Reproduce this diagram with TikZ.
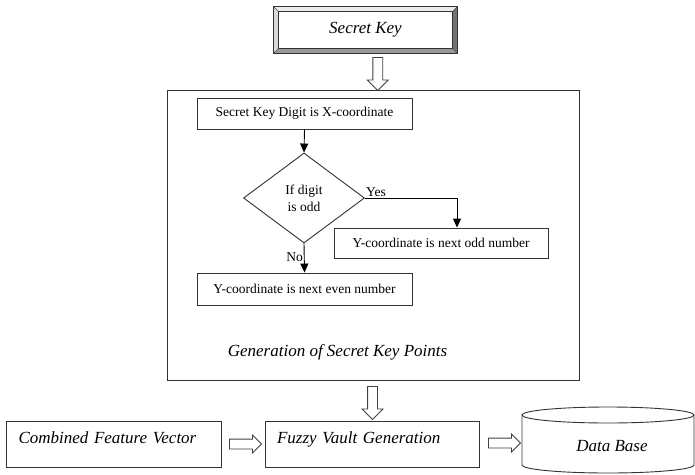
\documentclass[tikz,border=0pt]{standalone}
\usepackage{fontspec}
\setmainfont{Liberation Serif}
\usetikzlibrary{shapes.geometric,shapes.arrows,arrows.meta,calc}
\newcommand{\fsmall}{\fontsize{13.5}{16}\selectfont}
\newcommand{\fbig}{\fontsize{17}{20}\selectfont\itshape}
\begin{document}
\begin{tikzpicture}[x=1pt,y=-1pt,
  every node/.style={inner sep=0pt},
  boxed/.style={draw=black!80, line width=0.9pt, rectangle},
  flow/.style={draw=black, line width=0.9pt, -{Triangle[length=9pt,width=8pt]}},
  harrowv/.style={single arrow, draw=black!75, line width=0.8pt, fill=white, minimum height=33pt, inner xsep=0pt, inner ysep=4.5pt, single arrow head extend=5.5pt},
  harrowh/.style={single arrow, draw=black!75, line width=0.8pt, fill=white, minimum height=32pt, inner xsep=0pt, inner ysep=4.5pt, single arrow head extend=4pt}]
\useasboundingbox (0,0) rectangle (695,474);
\fill[white] (0,0) rectangle (695,474);

% Secret Key bevelled box
\node[boxed, minimum width=183pt, minimum height=46pt] (sk) at (365.5,30) {};
\fill[black!8] (sk.north west) -- (sk.north east) -- ([shift={(-5,5)}]sk.north east) -- ([shift={(5,5)}]sk.north west) -- cycle;
\fill[black!15] (sk.north west) -- (sk.south west) -- ([shift={(5,-5)}]sk.south west) -- ([shift={(5,5)}]sk.north west) -- cycle;
\fill[black!55] (sk.north east) -- (sk.south east) -- ([shift={(-5,-5)}]sk.south east) -- ([shift={(-5,5)}]sk.north east) -- cycle;
\fill[black!40] (sk.south west) -- (sk.south east) -- ([shift={(-5,-5)}]sk.south east) -- ([shift={(5,-5)}]sk.south west) -- cycle;
\draw[black!80, line width=1pt] (sk.north west) rectangle (sk.south east);
\draw[black!80, line width=0.7pt] ([shift={(5,5)}]sk.north west) rectangle ([shift={(-5,-5)}]sk.south east);
\draw[black!70, line width=0.5pt] (sk.north west) -- ([shift={(5,5)}]sk.north west)
  (sk.north east) -- ([shift={(-5,5)}]sk.north east)
  (sk.south west) -- ([shift={(5,-5)}]sk.south west)
  (sk.south east) -- ([shift={(-5,-5)}]sk.south east);
\node[font=\fbig] at (sk.center) {Secret Key};

% big frame
\node[boxed, minimum width=412pt, minimum height=290pt] (big) at (373,235) {};

% inner flowchart
\node[boxed, minimum width=215pt, minimum height=31pt, font=\fsmall] (xc) at (304.5,113.5) {Secret Key Digit is X-coordinate};
\node[draw=black!80, line width=0.9pt, diamond, aspect=1.34, minimum width=121pt, minimum height=90pt, align=center, font=\fsmall] (dia) at (304,198) {If digit\\[1pt]is odd};
\node[boxed, minimum width=214pt, minimum height=30pt, font=\fsmall] (odd) at (441,243) {Y-coordinate is next odd number};
\node[boxed, minimum width=215pt, minimum height=32pt, font=\fsmall] (even) at (304.5,289) {Y-coordinate is next even number};
\node[font=\fbig] (gen) at (337.5,352) {Generation of Secret Key Points};

\draw[flow] (xc.south) -- (dia.north);
\draw[flow] (dia.east) -| ($(odd.north)+(16,0)$);
\draw[flow] (dia.south) -- (even.north);
\node[font=\fsmall, anchor=south west] (yes) at ($(dia.east)+(1,-1)$) {Yes};
\node[font=\fsmall, anchor=east] (no) at ($(dia.south)+(-1,14)$) {No};

% bottom row
\node[boxed, minimum width=215pt, minimum height=46pt, text width=190pt, align=left, inner xsep=12pt, text depth=12pt, font=\fbig] (cfv) at (113.5,444) {Combined Feature Vector};
\node[boxed, minimum width=214pt, minimum height=46pt, text width=190pt, align=left, inner xsep=12pt, text depth=12pt, font=\fbig] (fvg) at (372,444) {Fuzzy Vault Generation};

% data base cylinder
\draw[black!80, line width=0.9pt, fill=white] (522,415) -- (522,465) arc[start angle=180, end angle=360, x radius=86pt, y radius=8pt] -- (694,415);
\draw[black!80, line width=0.9pt] (608,415) ellipse [x radius=86pt, y radius=8pt];
\node[font=\fbig] (db) at (612,446) {Data Base};

% hollow arrows
\node[harrowv, rotate=-90] (a1) at ($(sk.south)!0.5!(big.north)+(8.5,0)$) {};
\node[harrowv, rotate=-90] (a2) at ($(big.south)!0.5!(fvg.north)$) {};
\node[harrowh] (a3) at ($(cfv.east)!0.5!(fvg.west)$) {};
\node[harrowh] (a4) at (502,443) {};
\end{tikzpicture}
\end{document}
